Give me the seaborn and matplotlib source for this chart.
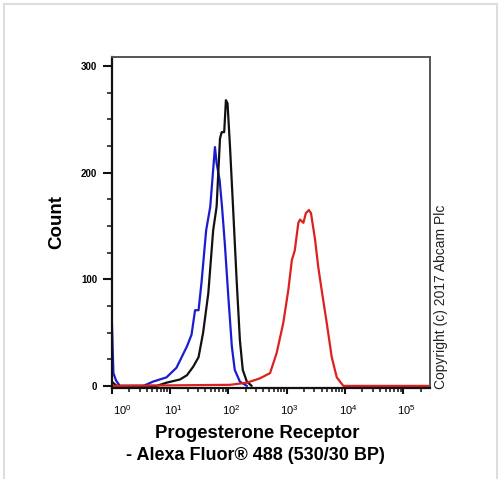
import numpy as np
import pandas as pd
import matplotlib
matplotlib.use("Agg")
import matplotlib.pyplot as plt
import matplotlib.ticker as mticker
import matplotlib.transforms as mtransforms
from matplotlib.patches import Rectangle
import seaborn as sns

# Histogram outlines (fluorescence value, count)
blue_x = [1.0, 1.07, 1.19, 1.38, 3.5, 5.1, 8.7, 12.9, 19.5, 23.4, 26.9, 30.9, 34.7, 41.7,
          49, 59, 63, 71, 78, 87, 100, 115, 129, 158, 209]
blue_y = [66, 12, 5, 0, 0, 4, 8, 17, 37, 48, 71, 71, 97, 146,
          168, 224, 209, 193, 168, 134, 84, 37, 15, 4, 0]

black_x = [1.0, 1.22, 5.9, 8.7, 14.8, 19.5, 25, 30.9, 37, 45.4, 55, 63, 72, 77,
           85, 91, 97, 107, 122, 139, 158, 177, 208, 252]
black_y = [4, 0, 0, 3, 6, 10, 18, 27, 50, 87, 146, 168, 232, 238,
           238, 268, 265, 224, 162, 99, 43, 15, 4, 0]

red_x = [1.0, 107, 208, 347, 520, 676, 876, 1070, 1230, 1380, 1590, 1700, 1940, 2140,
         2410, 2620, 3080, 3480, 3990, 4880, 5940, 7250, 9400, 280000]
red_y = [0, 1, 3, 7, 12, 31, 59, 90, 118, 127, 153, 156, 153, 162,
         165, 162, 137, 112, 90, 59, 27, 8, 0, 0]

decades = [1, 10, 100, 1000, 10000, 100000]
decade_labels = [r"$10^{0}$", r"$10^{1}$", r"$10^{2}$", r"$10^{3}$", r"$10^{4}$", r"$10^{5}$"]
y_major = [0, 100, 200, 300]

sns.set_style("ticks")
plt.rcParams['font.family'] = ['Liberation Sans', 'DejaVu Sans']
plt.rcParams['mathtext.fontset'] = 'custom'
plt.rcParams['mathtext.rm'] = 'Liberation Sans'
plt.rcParams['mathtext.it'] = 'Liberation Sans'
plt.rcParams['mathtext.bf'] = 'Liberation Sans:bold'

W, H = 504, 479
fig = plt.figure(figsize=(W / 100, H / 100), dpi=100)
ax = fig.add_axes([111.7 / W, 1 - 387.5 / H, (430 - 111.7) / W, (387.5 - 57) / H])

df = pd.concat([
    pd.DataFrame({'x': blue_x, 'count': blue_y, 'sample': 'blue'}),
    pd.DataFrame({'x': black_x, 'count': black_y, 'sample': 'black'}),
    pd.DataFrame({'x': red_x, 'count': red_y, 'sample': 'red'}),
])
palette = {'blue': '#1c1ccf', 'black': '#111111', 'red': '#dd2020'}
for name in ['blue', 'black', 'red']:
    sns.lineplot(data=df[df['sample'] == name], x='x', y='count', color=palette[name],
                 estimator=None, sort=False, lw=1.6, ax=ax, legend=False)

ax.set_xscale('log')
ax.set_xlim(1.0, 2.88e5)
ax.set_ylim(-1.5, 308.5)

ax.xaxis.set_major_locator(mticker.FixedLocator(decades))
ax.xaxis.set_major_formatter(mticker.FixedFormatter(decade_labels))
ax.xaxis.set_minor_locator(mticker.LogLocator(base=10, subs=np.arange(2, 10), numticks=20))
ax.xaxis.set_minor_formatter(mticker.NullFormatter())
ax.yaxis.set_major_locator(mticker.FixedLocator(y_major))
ax.yaxis.set_minor_locator(mticker.MultipleLocator(25))

ax.tick_params(axis='x', which='major', bottom=True, direction='out', length=4.5, width=1.5,
               labelsize=8, pad=6.5, colors='#111111', labelcolor='black')
ax.tick_params(axis='x', which='minor', bottom=True, direction='out', length=3, width=1.1,
               colors='#111111')
ax.tick_params(axis='y', which='major', left=True, direction='out', length=6.5, width=1.5,
               labelsize=7, pad=4, colors='#111111', labelcolor='black')
ax.tick_params(axis='y', which='minor', left=True, direction='out', length=3.6, width=1.1,
               colors='#111111')
for lab in ax.get_yticklabels():
    lab.set_fontweight('bold')

# shift x tick labels slightly right, first one more
shifts = [11, 3, 3, 3, 3, 3]
for lab, dx in zip(ax.get_xticklabels(), shifts):
    lab.set_transform(lab.get_transform() +
                      mtransforms.ScaledTranslation(dx / 100, 0, fig.dpi_scale_trans))

for side in ['left', 'bottom']:
    ax.spines[side].set_linewidth(1.6)
    ax.spines[side].set_color('#111111')
for side in ['top', 'right']:
    ax.spines[side].set_visible(True)
    ax.spines[side].set_linewidth(1.4)
    ax.spines[side].set_color('#555555')

ax.set_xlabel('')
ax.set_ylabel('Count', fontsize=13.5, fontweight='bold', color='black')
ax.yaxis.set_label_coords(-0.147, 0.5)

fig.text(257 / W, 1 - 433 / H, 'Progesterone Receptor', ha='center', va='center',
         fontsize=13.3, fontweight='bold', color='black')
fig.text(255 / W, 1 - 456 / H, '- Alexa Fluor® 488 (530/30 BP)', ha='center', va='center',
         fontsize=13, fontweight='bold', color='black')
fig.text(441 / W, 1 - 297 / H, 'Copyright (c) 2017 Abcam Plc', rotation=90,
         ha='center', va='center', fontsize=10, color='#222222')

# light frame around the image
fig.patches.append(Rectangle((4 / W, -0.01), (493 / W), 1 - 4 / H + 0.01,
                             transform=fig.transFigure, fill=False,
                             edgecolor='#dddddd', lw=1.5))

fig.savefig('out.png', dpi=100)
